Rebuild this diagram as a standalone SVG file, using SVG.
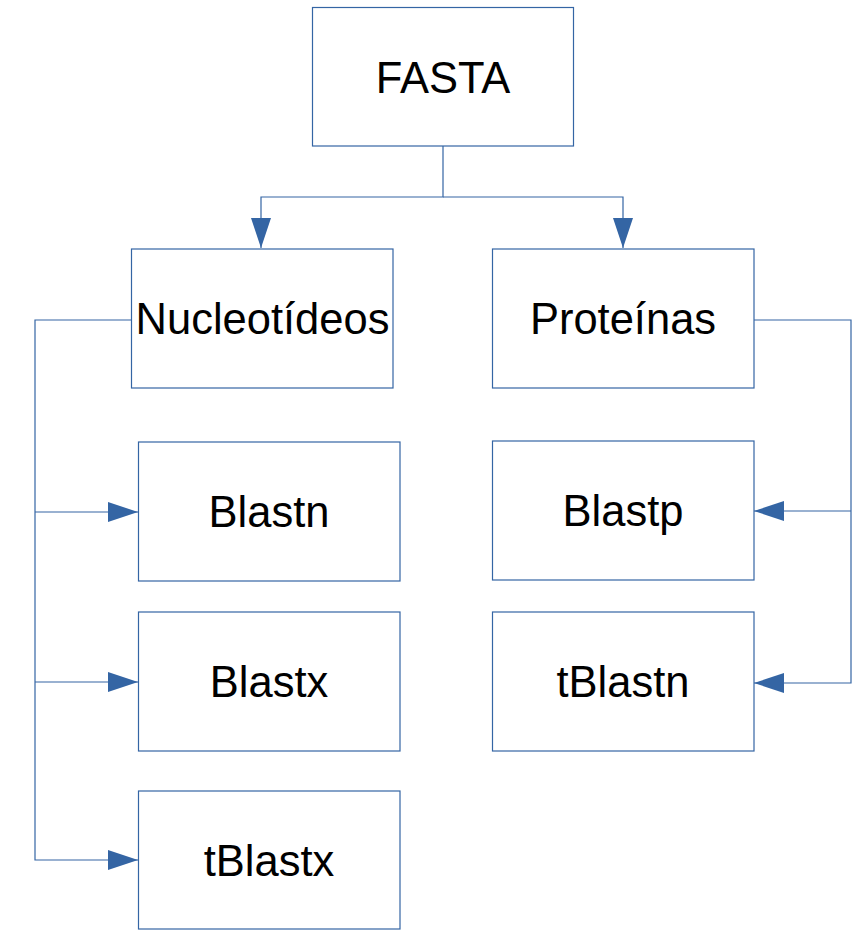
<svg xmlns="http://www.w3.org/2000/svg" width="868" height="930" viewBox="0 0 868 930">
<style>
.box{fill:#fff;stroke:#3465a4;stroke-width:1.2}
.lbl{font-family:"Liberation Sans",Arial,sans-serif;font-size:43.5px;fill:#000;text-anchor:middle}
.ln{fill:none;stroke:#3465a4;stroke-width:1.2}
</style>
<defs>
<marker id="ah" markerUnits="userSpaceOnUse" markerWidth="30" markerHeight="20" refX="30" refY="10" orient="auto">
<path d="M0,0 L30,10 L0,20 Z" fill="#3465a4"/>
</marker>
</defs>
<rect width="868" height="930" fill="#fff"/>
<g id="connectors">
<polyline class="ln" points="443,146 443,197 261,197 261,248" marker-end="url(#ah)"/>
<polyline class="ln" points="443,197 623,197 623,248" marker-end="url(#ah)"/>
<polyline class="ln" points="131,320 35,320 35,860 138,860" marker-end="url(#ah)"/>
<polyline class="ln" points="35,512 138,512" marker-end="url(#ah)"/>
<polyline class="ln" points="35,682 138,682" marker-end="url(#ah)"/>
<polyline class="ln" points="754,320 851,320 851,683 754,683" marker-end="url(#ah)"/>
<polyline class="ln" points="851,511 754,511" marker-end="url(#ah)"/>
</g>
<g id="fasta"><rect class="box" x="312.5" y="7.5" width="261" height="138.5"/><text class="lbl" x="443" y="93">FASTA</text></g>
<g id="nucleotideos"><rect class="box" x="131.5" y="249" width="261.5" height="139"/><text class="lbl" x="262.5" y="334">Nucleotídeos</text></g>
<g id="proteinas"><rect class="box" x="492.5" y="249" width="261.5" height="139"/><text class="lbl" x="623" y="334">Proteínas</text></g>
<g id="blastn"><rect class="box" x="138.5" y="442" width="261.5" height="139"/><text class="lbl" x="269" y="527">Blastn</text></g>
<g id="blastx"><rect class="box" x="138.5" y="612" width="261.5" height="139"/><text class="lbl" x="269" y="697">Blastx</text></g>
<g id="tblastx"><rect class="box" x="138.5" y="791" width="261.5" height="138"/><text class="lbl" x="269" y="876">tBlastx</text></g>
<g id="blastp"><rect class="box" x="492.5" y="441" width="261.5" height="139"/><text class="lbl" x="623" y="526">Blastp</text></g>
<g id="tblastn"><rect class="box" x="492.5" y="612" width="261.5" height="139"/><text class="lbl" x="623" y="697">tBlastn</text></g>
</svg>
